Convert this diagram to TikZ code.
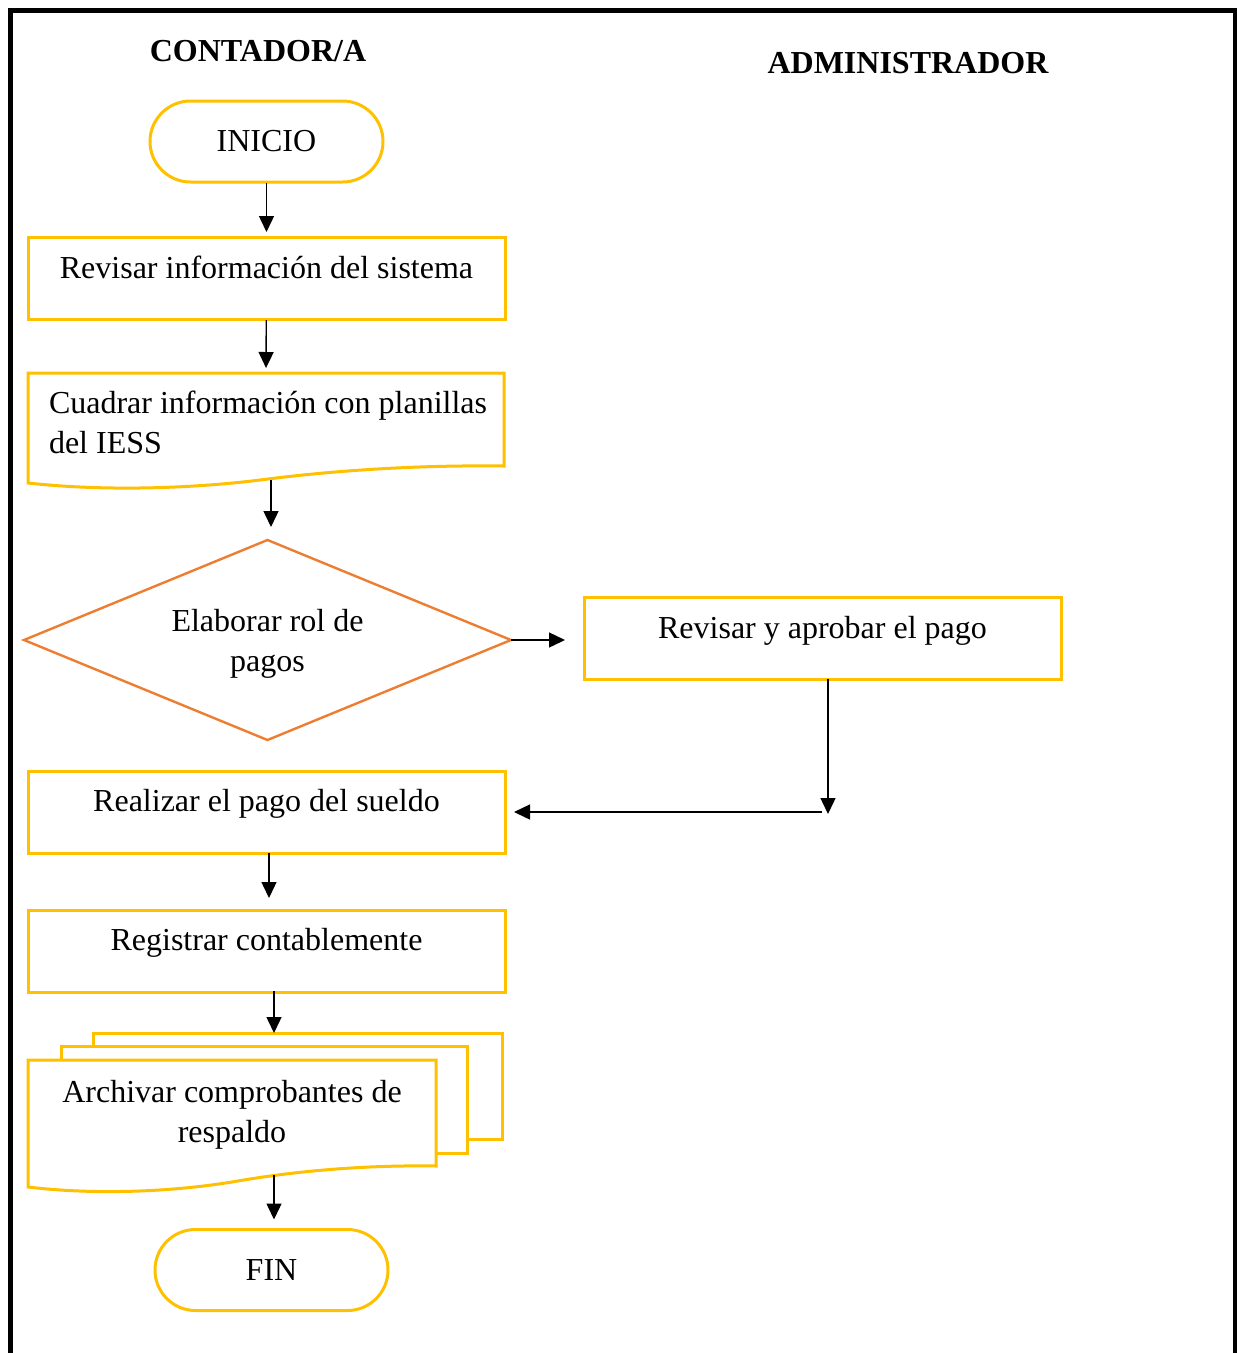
\documentclass[tikz,border=0pt]{standalone}
\usepackage{fontspec}
\setmainfont{Liberation Serif}
\usetikzlibrary{arrows.meta,shapes.geometric,shapes.misc}
\definecolor{docyellow}{HTML}{FFC000}
\definecolor{decorange}{HTML}{ED7D31}
\begin{document}
\begin{tikzpicture}[x=1pt,y=-1pt,
  every node/.style={font=\fontsize{32}{40}\selectfont, inner sep=0pt, outer sep=0pt},
  lbl/.style={align=center, text height=22pt, text depth=7pt},
  heading/.style={font=\fontsize{32}{40}\selectfont\bfseries},
  terminal/.style={draw=docyellow, line width=3pt, rounded rectangle,
    minimum width=233pt, minimum height=81pt},
  procbox/.style={draw=docyellow, line width=3pt, rectangle,
    minimum width=477pt, minimum height=82pt},
  docline/.style={draw=docyellow, line width=3pt, fill=white, line join=miter},
  decision/.style={draw=decorange, line width=2.4pt, diamond,
    minimum width=487pt, minimum height=200pt},
  flow/.style={line width=1.4pt, -{Triangle[length=16pt,width=15pt]}}]

\useasboundingbox (0,0) rectangle (1237,1353);

% outer frame (open at the bottom)
\draw[line width=5pt] (10,1353) -- (10,10) -- (1235,10) -- (1235,1353);

% lane headings
\node[heading] (hcont) at (258,51) {CONTADOR/A};
\node[heading] (hadmin) at (908,63) {ADMINISTRADOR};

% start
\node[terminal] (inicio) at (266.5,141.5) {};
\node[lbl] (tinicio) at (266.5,144) {INICIO};

% review system information
\node[procbox] (rev) at (266.5,278) {};
\node[lbl] (trev) at (266.5,271) {Revisar información del sistema};

% reconcile with IESS sheets (document shape)
\draw[docline] (28,483) -- (28,373) -- (504,373) -- (504,466)
  .. controls (420,465) and (340,470) .. (268,479)
  .. controls (200,488) and (110,492) .. (28,483) -- cycle;
\coordinate (cuadtop) at (266,373);
\coordinate (cuadbot) at (271,480);
\node[lbl, align=left, anchor=west] (tcuad) at (49,446)
  {Cuadrar información con planillas\\del IESS};

% payroll decision
\node[decision] (elab) at (267.5,640) {};
\node[lbl] (telab) at (267.5,664) {Elaborar rol de\\pagos};

% administrator approval
\node[procbox] (aprob) at (822.5,638) {};
\node[lbl] (taprob) at (822.5,631) {Revisar y aprobar el pago};
\coordinate (aprobout) at (828,679);
\coordinate (turn) at (828,814);
\coordinate (turnback) at (822,812);

% pay salary
\node[procbox] (pago) at (266.5,812.5) {};
\node[lbl] (tpago) at (266.5,804) {Realizar el pago del sueldo};

% accounting record
\node[procbox] (reg) at (266.5,951) {};
\node[lbl] (treg) at (266.5,943) {Registrar contablemente};

% archive supporting vouchers (multi-document)
\draw[docline] (93,1033) rectangle (502,1139);
\coordinate (archtop) at (274,1033);
\draw[docline] (61,1046) rectangle (467,1153);
\draw[docline] (28,1187) -- (28,1060) -- (436,1060) -- (436,1166)
  .. controls (370,1165) and (300,1170) .. (232,1182)
  .. controls (170,1192) and (95,1195) .. (28,1187) -- cycle;
\coordinate (archbot) at (274,1175);
\node[lbl] (tarch) at (232,1135) {Archivar comprobantes de\\respaldo};

% end
\node[terminal] (fin) at (271.5,1270) {};
\node[lbl] (tfin) at (271.5,1273) {FIN};

% connectors
\draw[flow, shorten <=1pt, shorten >=5pt] (inicio) -- (rev);
\draw[flow, shorten <=1pt, shorten >=5pt] (rev) -- (cuadtop);
\draw[flow, shorten >=13pt] (cuadbot) -- (cuadbot |- elab.north);
\draw[flow, shorten >=19pt] (elab.east) -- (elab.east -| aprob.west);
\draw[flow] (aprobout) -- (turn);
\draw[flow, shorten >=9pt] (turnback) -- (pago.east |- turnback);
\draw[flow, shorten <=-1pt, shorten >=12pt] ([xshift=2.5pt]pago.south) -- ([xshift=2.5pt]reg.north);
\draw[flow, shorten <=-1pt] ([xshift=7.5pt]reg.south) -- (archtop);
\draw[flow, shorten >=10pt] (archbot) -- (fin.north -| archbot);
\end{tikzpicture}
\end{document}
